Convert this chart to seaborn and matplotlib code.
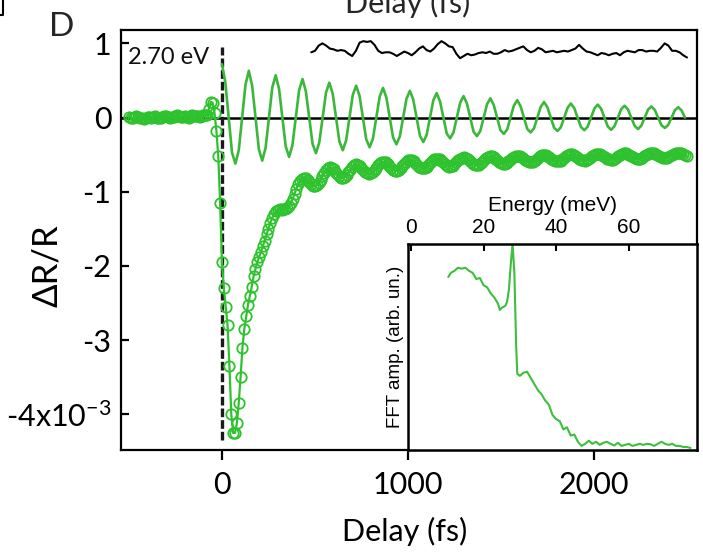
import numpy as np
import pandas as pd
import matplotlib
matplotlib.use("Agg")
import matplotlib.pyplot as plt
import seaborn as sns
from matplotlib.lines import Line2D

# ---------------- data ----------------
# transient reflectivity, dR/R (x10^-3); samples every 10 fs, listed as
# "on-grid" values (multiples of 20 fs) and the values in between
pre_start, mid_start, late_start = -500, -70, 200

pre_on = [0.01, -0.01, 0.02, 0.00, -0.02, 0.01, 0.00, 0.02, -0.01, 0.01, 0.02,
          0.00, 0.01, 0.03, 0.01, 0.02, 0.00, 0.03, 0.02, 0.01, 0.03, 0.04]
pre_between = [0.00, 0.01, 0.01, -0.01, 0.00, 0.01, 0.01, 0.00, 0.00, 0.02, 0.01,
               0.01, 0.02, 0.02, 0.01, 0.01, 0.02, 0.02, 0.02, 0.02, 0.03]
# around time zero, every 10 fs from -70 fs
mid_vals = [0.12, 0.21, 0.20, 0.06, -0.18, -0.52, -1.15, -1.95, -2.30, -2.55,
            -2.80, -3.35, -4.00, -4.25, -4.25, -4.12, -3.85, -3.50, -3.10, -2.85,
            -2.68, -2.52, -2.40, -2.28, -2.14, -2.04, -1.95]
late_on = [-1.875, -1.729, -1.572, -1.418, -1.297, -1.242, -1.240, -1.232, -1.190, -1.097,
           -0.957, -0.850, -0.809, -0.841, -0.897, -0.923, -0.882, -0.789, -0.703, -0.671,
           -0.699, -0.765, -0.808, -0.800, -0.739, -0.666, -0.632, -0.649, -0.703, -0.752,
           -0.751, -0.707, -0.642, -0.599, -0.605, -0.652, -0.700, -0.715, -0.682, -0.623,
           -0.577, -0.573, -0.612, -0.662, -0.686, -0.665, -0.612, -0.564, -0.552, -0.581,
           -0.629, -0.660, -0.648, -0.603, -0.553, -0.532, -0.554, -0.599, -0.634, -0.634,
           -0.596, -0.548, -0.522, -0.534, -0.574, -0.612, -0.619, -0.590, -0.545, -0.513,
           -0.518, -0.551, -0.590, -0.605, -0.585, -0.543, -0.509, -0.505, -0.533, -0.571,
           -0.591, -0.579, -0.542, -0.505, -0.496, -0.517, -0.553, -0.577, -0.573, -0.542,
           -0.504, -0.488, -0.502, -0.536, -0.564, -0.567, -0.540, -0.504, -0.483, -0.490,
           -0.520, -0.550, -0.559, -0.539, -0.505, -0.480, -0.481, -0.506, -0.536, -0.550,
           -0.536, -0.505, -0.478, -0.473, -0.493, -0.523]
late_between = [-1.811, -1.658, -1.496, -1.351, -1.260, -1.235, -1.238, -1.219, -1.152, -1.029,
                -0.898, -0.821, -0.820, -0.869, -0.916, -0.910, -0.839, -0.742, -0.679, -0.678,
                -0.730, -0.792, -0.812, -0.774, -0.701, -0.642, -0.634, -0.674, -0.731, -0.759,
                -0.734, -0.674, -0.615, -0.596, -0.625, -0.678, -0.714, -0.704, -0.654, -0.596,
                -0.569, -0.589, -0.638, -0.679, -0.681, -0.641, -0.585, -0.552, -0.562, -0.605,
                -0.649, -0.659, -0.628, -0.576, -0.538, -0.538, -0.575, -0.620, -0.639, -0.618,
                -0.571, -0.531, -0.524, -0.553, -0.595, -0.620, -0.608, -0.568, -0.526, -0.511,
                -0.532, -0.572, -0.602, -0.599, -0.565, -0.524, -0.503, -0.516, -0.552, -0.585,
                -0.589, -0.562, -0.522, -0.496, -0.503, -0.534, -0.568, -0.579, -0.560, -0.522,
                -0.493, -0.491, -0.518, -0.552, -0.569, -0.556, -0.521, -0.490, -0.483, -0.504,
                -0.537, -0.558, -0.552, -0.522, -0.490, -0.477, -0.491, -0.522, -0.546, -0.547,
                -0.522, -0.489, -0.472, -0.480, -0.508]

# oscillatory component (fit), sampled every 1/8 of the 144.3 fs period
osc_period = 144.3
osc_vals = [0.72, 0.474, 0, -0.474, -0.62, -0.442, 0, 0.442,
            0.63, 0.428, 0, -0.428, -0.58, -0.407, 0, 0.407,
            0.57, 0.389, 0, -0.389, -0.53, -0.371, 0, 0.371,
            0.52, 0.354, 0, -0.354, -0.48, -0.336, 0, 0.336,
            0.47, 0.322, 0, -0.322, -0.44, -0.308, 0, 0.308,
            0.43, 0.293, 0, -0.293, -0.40, -0.283, 0, 0.283,
            0.40, 0.269, 0, -0.269, -0.36, -0.255, 0, 0.255,
            0.36, 0.244, 0, -0.244, -0.33, -0.233, 0, 0.233,
            0.33, 0.216, 0, -0.216, -0.28, -0.201, 0, 0.201,
            0.29, 0.191, 0, -0.191, -0.25, -0.180, 0, 0.180,
            0.26, 0.170, 0, -0.170, -0.22, -0.161, 0, 0.161,
            0.235, 0.154, 0, -0.154, -0.20, -0.145, 0, 0.145,
            0.21, 0.138, 0, -0.138, -0.18, -0.131, 0, 0.131,
            0.19, 0.127, 0, -0.127, -0.17, -0.122, 0, 0.122,
            0.175, 0.120, 0, -0.120, -0.165, -0.115, 0, 0.115,
            0.16, 0.111, 0, -0.111, -0.155, -0.108, 0, 0.108,
            0.15, 0.103, 0, -0.103, -0.14, -0.099, 0, 0.099,
            0.14, 0.095, 0.0]

# residual trace (offset), every 20 fs from 480 fs
res_start, res_step = 480, 20
res_vals = [0.88, 0.90, 0.97, 1.00, 0.97, 0.93, 0.92, 0.90, 0.91, 0.90,
            0.86, 0.83, 0.90, 1.01, 1.03, 1.02, 1.03, 0.98, 0.90, 0.87,
            0.88, 0.88, 0.86, 0.83, 0.86, 0.89, 0.87, 0.84, 0.88, 0.93,
            0.96, 0.91, 0.89, 0.93, 0.99, 1.03, 1.00, 0.96, 0.95, 0.86,
            0.80, 0.83, 0.86, 0.84, 0.85, 0.87, 0.88, 0.87, 0.89, 0.86,
            0.86, 0.88, 0.91, 0.89, 0.90, 0.92, 0.94, 0.96, 0.91, 0.88,
            0.90, 0.94, 0.92, 0.88, 0.89, 0.90, 0.88, 0.89, 0.90, 0.89,
            0.91, 0.93, 0.98, 0.93, 0.89, 0.88, 0.86, 0.84, 0.87, 0.86,
            0.84, 0.86, 0.87, 0.84, 0.88, 0.90, 0.89, 0.88, 0.91, 0.91,
            0.89, 0.90, 0.90, 0.89, 0.94, 1.00, 0.97, 0.90, 0.90, 0.88,
            0.84, 0.81]

# FFT of the oscillatory part
fft_energy = [10.3, 11, 12, 13, 14, 15, 16, 17, 18, 19, 20, 21, 22, 23, 24,
              24.5, 25, 26, 26.5, 27, 27.5, 28, 28.5, 29, 29.3,
              30, 31, 32, 33, 34, 35, 36, 37, 38, 39, 40, 41, 42, 43, 44, 45, 46, 47,
              48, 49, 50, 51, 52, 53, 54, 55, 56, 57, 58, 59, 60, 61, 62, 63, 64, 65,
              66, 67, 68, 69, 70, 71, 72, 73, 74, 75, 76, 77]
fft_amp = [0.84, 0.86, 0.87, 0.885, 0.88, 0.885, 0.87, 0.86, 0.83, 0.835, 0.80, 0.79, 0.76, 0.74, 0.71,
           0.68, 0.69, 0.70, 0.72, 0.78, 0.90, 1.00, 0.86, 0.50, 0.37,
           0.36, 0.375, 0.38, 0.35, 0.32, 0.29, 0.27, 0.24, 0.22, 0.17, 0.15, 0.14, 0.10, 0.11, 0.07, 0.075, 0.04, 0.02,
           0.03, 0.045, 0.03, 0.04, 0.025, 0.035, 0.04, 0.03, 0.022, 0.035, 0.02, 0.025, 0.03, 0.02, 0.025, 0.03, 0.025, 0.03,
           0.028, 0.02, 0.03, 0.04, 0.03, 0.025, 0.03, 0.02, 0.02, 0.015, 0.015, 0.01]

x_ticks = [0, 1000, 2000]
x_ticklabels = ["0", "1000", "2000"]
y_ticks = [-4, -3, -2, -1, 0, 1]
y_ticklabels = ["-4x10$^{-3}$", "-3", "-2", "-1", "0", "1"]
e_ticks = [0, 20, 40, 60]
e_ticklabels = ["0", "20", "40", "60"]
photon_label = "2.70 eV"
time_zero = 0
dash_span = (-4.35, 0.95)

# ---------------- build tables ----------------
data_delay = np.concatenate([
    pre_start + 20 * np.arange(len(pre_on)),
    pre_start + 10 + 20 * np.arange(len(pre_between)),
    mid_start + 10 * np.arange(len(mid_vals)),
    late_start + 20 * np.arange(len(late_on)),
    late_start + 10 + 20 * np.arange(len(late_between)),
])
data_vals = pre_on + pre_between + mid_vals + late_on + late_between
df_data = pd.DataFrame({"delay": data_delay, "dRR": data_vals}).sort_values("delay")
df_osc = pd.DataFrame({"delay": np.arange(len(osc_vals)) * osc_period / 8, "dRR": osc_vals})
df_res = pd.DataFrame({"delay": res_start + res_step * np.arange(len(res_vals)), "dRR": res_vals})
df_fft = pd.DataFrame({"energy": fft_energy, "amp": fft_amp})

# ---------------- style ----------------
sns.set_style("ticks")
plt.rcParams["font.family"] = ["Lato", "DejaVu Sans"]
plt.rcParams["mathtext.default"] = "regular"
plt.rcParams["axes.linewidth"] = 1.6
inset_font = ["Liberation Sans", "DejaVu Sans"]

green_data = "#2fc22f"
green_fit = "#3bb83b"
green_fft = "#3cbf3c"
main_fs = 22

fig = plt.figure(figsize=(7.03, 5.54), dpi=100)
ax = fig.add_axes([0.1721, 0.1877, 0.8194, 0.7581])

ax.axhline(0, color="black", lw=1.8, zorder=1)
ax.vlines(time_zero, dash_span[0], dash_span[1], colors="#1a1a1a",
          linestyles=(0, (2.6, 0.9)), lw=2.4, zorder=2)

sns.lineplot(data=df_osc, x="delay", y="dRR", ax=ax, color=green_fit, lw=1.9, zorder=3)
sns.lineplot(data=df_data, x="delay", y="dRR", ax=ax, color=green_data, lw=1.6,
             marker="o", markersize=7.5, markerfacecolor="none",
             markeredgecolor=green_data, markeredgewidth=1.3, zorder=4)
sns.lineplot(data=df_res, x="delay", y="dRR", ax=ax, color="black", lw=1.5, zorder=3)

ax.set_xlim(-543, 2554)
ax.set_ylim(-4.48, 1.18)
ax.set_xticks(x_ticks)
ax.set_xticklabels(x_ticklabels)
ax.set_yticks(y_ticks)
ax.set_yticklabels(y_ticklabels)
ax.tick_params(axis="x", direction="out", length=7, width=1.6, labelsize=main_fs, pad=8,
               colors="black")
ax.tick_params(axis="y", direction="in", length=6, width=1.6, labelsize=main_fs, pad=7,
               colors="black")
for s in ax.spines.values():
    s.set_visible(True)
    s.set_linewidth(1.6)
    s.set_color("black")

ax.set_xlabel("Delay (fs)", fontsize=22, color="black")
ax.xaxis.set_label_coords(0.493, -0.16)
ax.set_ylabel("ΔR/R", fontsize=25, color="black")
ax.yaxis.set_label_coords(-0.10, 0.44)

ax.text(0.012, 0.935, photon_label, transform=ax.transAxes, fontsize=17,
        ha="left", va="center", color="#111111")

# ---------------- inset ----------------
axin = fig.add_axes([408 / 703, 0.1877, 289 / 703, 206 / 554])
axin.set_facecolor("white")
sns.lineplot(data=df_fft, x="energy", y="amp", ax=axin, color=green_fft, lw=1.5)
axin.set_xlim(-0.8, 78.8)
axin.set_ylim(0, 1.0)
axin.xaxis.tick_top()
axin.xaxis.set_label_position("top")
axin.set_xticks(e_ticks)
axin.set_xticklabels(e_ticklabels)
axin.set_yticks([])
axin.tick_params(axis="x", direction="in", length=5, width=1.5, labelsize=15, pad=5,
                 top=True, bottom=False, colors="black")
for lab in axin.get_xticklabels():
    lab.set_family(inset_font)
axin.set_xlabel("Energy (meV)", fontsize=15, family=inset_font, labelpad=5, color="black")
axin.set_ylabel("FFT amp. (arb. un.)", fontsize=13.5, family=inset_font, labelpad=3,
                color="black")
for s in axin.spines.values():
    s.set_linewidth(1.8)
    s.set_color("black")

# ---------------- panel decorations ----------------
fig.text(62 / 703, 1 - 27 / 554, "D", fontsize=24, ha="center", va="center")
fig.text(408 / 703, 1 - 13 / 554, "Delay (fs)", fontsize=22, ha="center",
         va="baseline")
fig.add_artist(Line2D([3 / 703, 3 / 703, 0], [1, 1 - 15 / 554, 1 - 15 / 554],
                      transform=fig.transFigure, color="black", lw=1.5))

fig.savefig("out.png", dpi=100)
